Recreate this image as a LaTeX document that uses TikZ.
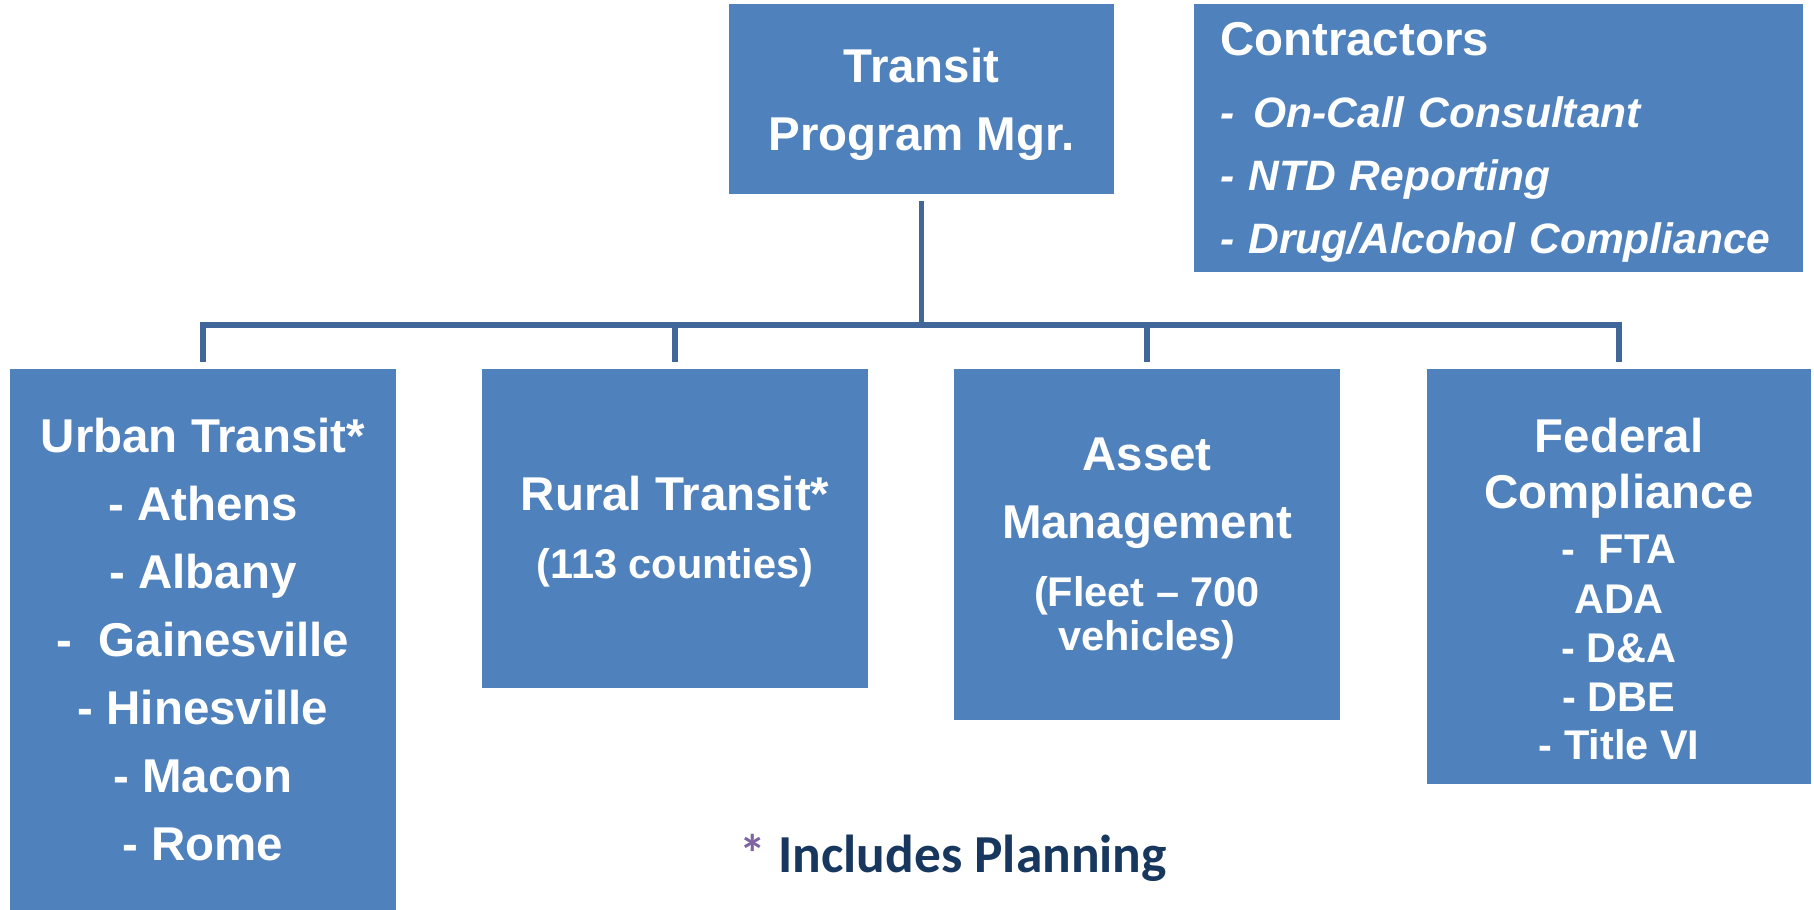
\documentclass[tikz,border=0pt]{standalone}
\usepackage{fontspec}
\setmainfont{Liberation Sans}
\newfontfamily\calibrifont{Carlito}
\usepackage{tikz}
\definecolor{unitblue}{HTML}{4F81BD}
\definecolor{linkblue}{HTML}{41679A}
\definecolor{notenavy}{HTML}{17375E}
\definecolor{starpurple}{HTML}{8064A2}
\newcommand{\smalltxt}{\fontsize{11.8}{13.9}\selectfont}
\newcommand{\toppad}[1]{\rule{0pt}{#1}}

\begin{document}
\begin{tikzpicture}
	\tikzstyle{unit}=[rectangle,fill=unitblue,text=white,inner sep=0pt,outer sep=0.07cm,align=center,font=\fontsize{13.5}{19.35}\selectfont\bfseries]
	\tikzstyle{link}=[draw=linkblue,line width=1.56pt]
	
	\useasboundingbox (0,0) rectangle (18.14,-9.10);
	
	\node[unit,minimum width=3.85cm,minimum height=1.90cm] at (9.215,-0.99) (pm) {\toppad{12.6pt}Transit\\Program Mgr.};
	
	\node[unit,minimum height=2.68cm,text width=5.57cm,inner xsep=0.26cm,align=left,font=\fontsize{12.1}{18}\selectfont\bfseries] at (14.985,-1.38) (con) {{\fontsize{13.5}{18}\selectfont\toppad{12pt}Contractors}\\[2.5pt]\itshape - \hspace{0.12em}On-Call Consultant\\\itshape - NTD Reporting\\\itshape - Drug/Alcohol Compliance};
	
	\node[unit,minimum width=3.86cm,minimum height=5.42cm] at (2.03,-6.40) (urban) {Urban Transit*\\- Athens\\- Albany\\-\ \ Gainesville\\- Hinesville\\- Macon\\- Rome};
	\node[unit,minimum width=3.86cm,minimum height=3.19cm] at (6.75,-5.285) (rural) {\toppad{11.5pt}Rural Transit*\\{\smalltxt(113 counties)}};
	\node[unit,minimum width=3.86cm,minimum height=3.51cm] at (11.47,-5.445) (asset) {\toppad{11.7pt}Asset\\Management\\{\smalltxt(Fleet -- 700}\\[-6.9pt]{\smalltxt vehicles)}};
	\node[unit,minimum width=3.84cm,minimum height=4.15cm,font=\fontsize{13.5}{13.9}\selectfont\bfseries] at (16.19,-5.765) (fed) {\toppad{17pt}Federal\\[2pt]Compliance\\[1.8pt]{\smalltxt-\ \ FTA}\\[0.3pt]{\smalltxt ADA}\\{\smalltxt- D\&A}\\{\smalltxt- DBE}\\{\smalltxt- Title VI}};
	
	\coordinate (bus) at (0,-3.25);
	\draw[link] (pm) -- (pm |- bus);
	\draw[link] (urban) -- (urban |- bus) -- (fed |- bus) -- (fed);
	\draw[link] (rural) -- (rural |- bus);
	\draw[link] (asset) -- (asset |- bus);
	
	\node[anchor=base west,inner sep=0pt,font=\calibrifont\fontsize{15.2}{18}\selectfont\bfseries] at (7.39,-8.725) (note) {\textcolor{starpurple}{*} \textcolor{notenavy}{Includes Planning}};
\end{tikzpicture}
\end{document}
